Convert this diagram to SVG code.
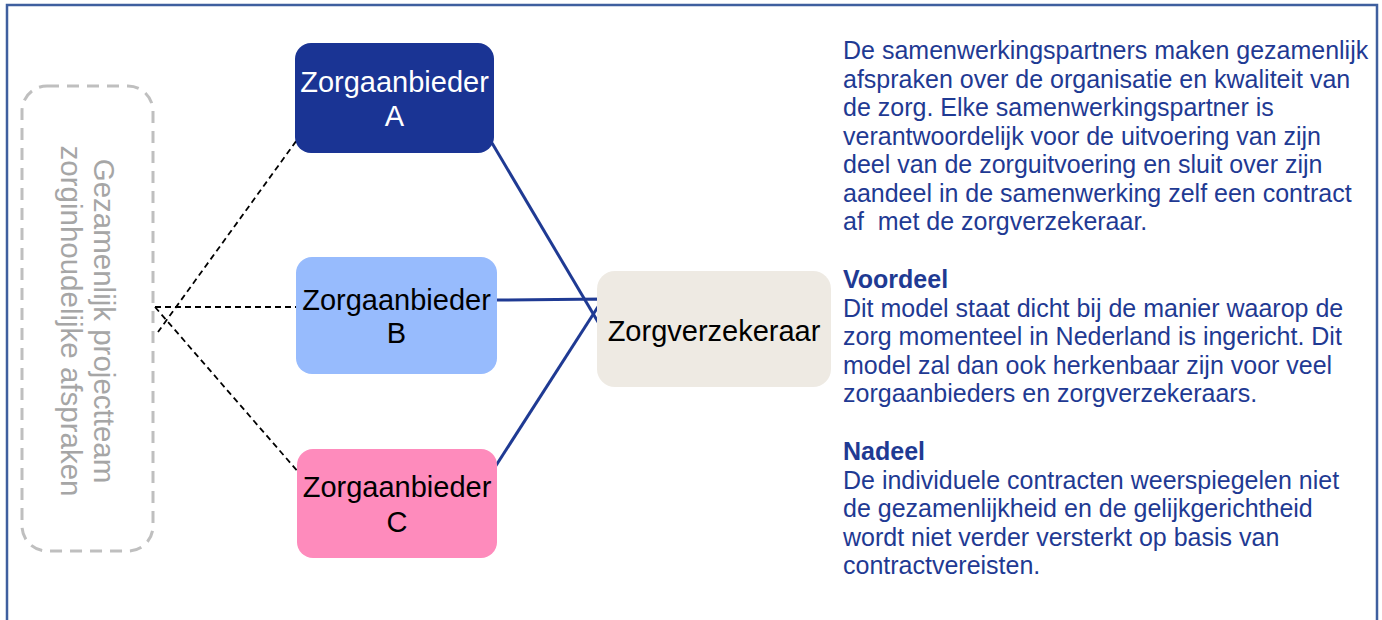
<svg xmlns="http://www.w3.org/2000/svg" width="1382" height="620" viewBox="0 0 1382 620">
<style>
.node text{font-family:"Liberation Sans",Arial,sans-serif;font-size:29px;text-anchor:middle}
.body{font-family:"Liberation Sans",Arial,sans-serif;font-size:25px;fill:#1F3A93}
.body .h{font-weight:bold}
.dash{stroke:#000;stroke-width:1.8;stroke-dasharray:6 4;fill:none}
.solid{stroke:#1F3A93;stroke-width:3;fill:none}
</style>
<rect x="7" y="5" width="1370" height="640" fill="#fff" stroke="#3F5F9F" stroke-width="2.5"/>
<g id="team">
<rect x="22" y="86" width="131" height="465" rx="25" fill="none" stroke="#BFBFBF" stroke-width="3" stroke-dasharray="12 8"/>
<text transform="translate(0,321) rotate(90)" font-family="Liberation Sans,Arial,sans-serif" font-size="29.5" fill="#A6A6A6" text-anchor="middle"><tspan x="0" y="-94">Gezamenlijk projectteam</tspan><tspan x="0" y="-61">zorginhoudelijke afspraken</tspan></text>
</g>
<g id="connectors">
<path class="dash" d="M302,133 L158,332"/>
<path class="dash" d="M155,307 L296,307"/>
<path class="dash" d="M155,307 L300,474"/>
<path class="solid" d="M492,143 L601,327"/>
<path class="solid" d="M497,300 L603,299 L603,305"/>
<path class="solid" d="M488,478 L603,299"/>
</g>
<g id="nodeA" class="node">
<rect x="295" y="43" width="199" height="110" rx="16" fill="#1A3494"/>
<text fill="#fff"><tspan x="394.5" y="92">Zorgaanbieder</tspan><tspan x="394.5" y="126">A</tspan></text>
</g>
<g id="nodeB" class="node">
<rect x="296" y="257" width="201" height="117" rx="16" fill="#97BBFD"/>
<text fill="#000"><tspan x="396.5" y="310">Zorgaanbieder</tspan><tspan x="396.5" y="343">B</tspan></text>
</g>
<g id="nodeC" class="node">
<rect x="297" y="449" width="200" height="109" rx="16" fill="#FE8BBC"/>
<text fill="#000"><tspan x="397" y="497">Zorgaanbieder</tspan><tspan x="397" y="532">C</tspan></text>
</g>
<g id="nodeZ" class="node">
<rect x="597" y="271" width="234" height="116" rx="18" fill="#EEEAE3"/>
<text fill="#000" x="714" y="341">Zorgverzekeraar</text>
</g>
<g id="description">
<text class="body">
<tspan x="843" y="59">De samenwerkingspartners maken gezamenlijk</tspan>
<tspan x="843" y="87.5">afspraken over de organisatie en kwaliteit van</tspan>
<tspan x="843" y="116">de zorg. Elke samenwerkingspartner is</tspan>
<tspan x="843" y="144.5">verantwoordelijk voor de uitvoering van zijn</tspan>
<tspan x="843" y="173">deel van de zorguitvoering en sluit over zijn</tspan>
<tspan x="843" y="201.5">aandeel in de samenwerking zelf een contract</tspan>
<tspan x="843" y="230" xml:space="preserve">af  met de zorgverzekeraar.</tspan>
<tspan x="843" y="288" class="h">Voordeel</tspan>
<tspan x="843" y="317">Dit model staat dicht bij de manier waarop de</tspan>
<tspan x="843" y="345">zorg momenteel in Nederland is ingericht. Dit</tspan>
<tspan x="843" y="373.5">model zal dan ook herkenbaar zijn voor veel</tspan>
<tspan x="843" y="402">zorgaanbieders en zorgverzekeraars.</tspan>
<tspan x="843" y="460" class="h">Nadeel</tspan>
<tspan x="843" y="488.5">De individuele contracten weerspiegelen niet</tspan>
<tspan x="843" y="517">de gezamenlijkheid en de gelijkgerichtheid</tspan>
<tspan x="843" y="545.5">wordt niet verder versterkt op basis van</tspan>
<tspan x="843" y="574">contractvereisten.</tspan>
</text>
</g>
</svg>
